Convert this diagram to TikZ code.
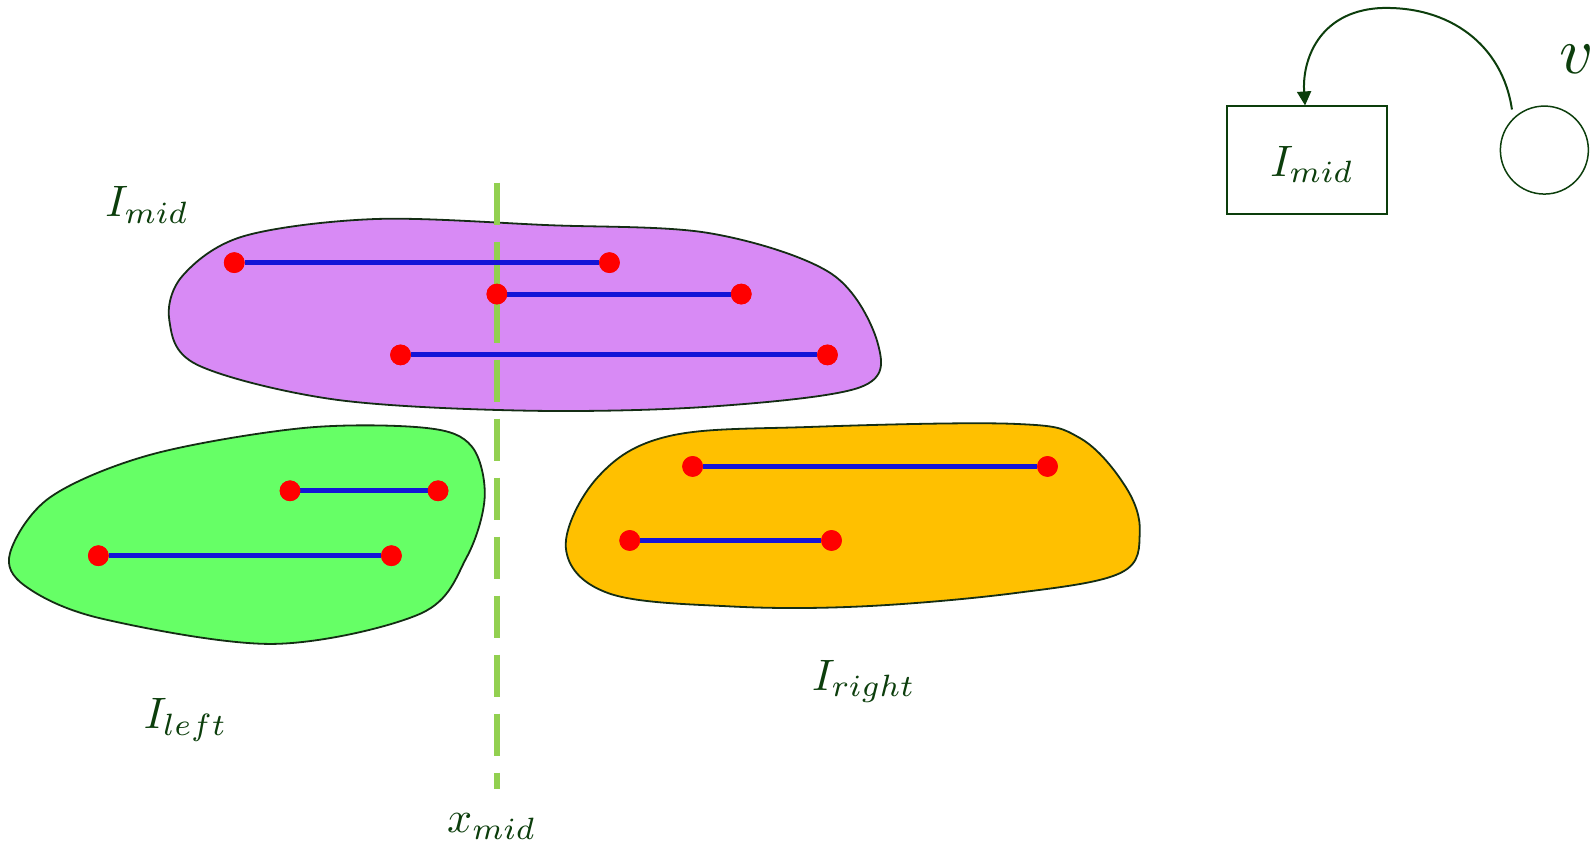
\documentclass[tikz,border=0pt]{standalone}
\usetikzlibrary{arrows.meta}
\definecolor{txt}{RGB}{12,62,12}
\definecolor{edge}{RGB}{20,45,20}
\definecolor{purp}{RGB}{216,138,245}
\definecolor{grn}{RGB}{102,255,102}
\definecolor{orng}{RGB}{255,192,0}
\definecolor{dashgreen}{RGB}{146,208,80}
\definecolor{segblue}{RGB}{20,20,215}
\begin{document}
\begin{tikzpicture}[x=1.014pt,y=-1.014pt,
  blob/.style={draw=edge,line width=1.8pt},
  dotnode/.style={circle,fill=red,inner sep=0pt,minimum size=20.5pt},
  seg/.style={draw=segblue,line width=5pt},
  lbl/.style={text=txt,inner sep=0pt,scale=4.4,transform shape},
  conn/.style={draw=txt,line width=2pt}]
\useasboundingbox (0,0) rectangle (1568,843);
% purple blob
\path[blob,fill=purp] plot[smooth cycle,tension=0.55] coordinates
 {(167,316) (180,272) (240,233) (370,216) (540,222) (700,230) (820,270) (866,340) (848,382) (700,401) (520,405) (330,394) (195,360)};
% green blob
\path[blob,fill=grn] plot[smooth cycle,tension=0.55] coordinates
 {(10,545) (50,490) (150,448) (300,422) (420,422) (465,440) (478,490) (460,550) (415,605) (270,635) (100,610) (25,578)};
% orange blob
\path[blob,fill=orng] plot[smooth cycle,tension=0.6] coordinates
 {(558,540) (590,470) (660,430) (800,421) (1000,418) (1065,432) (1110,480) (1124,525) (1105,565) (1000,585) (850,598) (720,598) (600,585)};
% dashed line
\coordinate (dtop) at (490,180);
\coordinate (dbot) at (490,778);
\draw[draw=dashgreen,line width=5.5pt,dash pattern=on 42pt off 17pt] (dtop) -- (dbot);
% segments in purple
\node[dotnode] (p1a) at (231,259) {};
\node[dotnode] (p1b) at (601,259) {};
\node[dotnode] (p2a) at (490,290) {};
\node[dotnode] (p2b) at (731,290) {};
\node[dotnode] (p3a) at (395,350) {};
\node[dotnode] (p3b) at (816,350) {};
% green
\node[dotnode] (g1a) at (286,484) {};
\node[dotnode] (g1b) at (432,484) {};
\node[dotnode] (g2a) at (97,548) {};
\node[dotnode] (g2b) at (386,548) {};
% orange
\node[dotnode] (o1a) at (683,460) {};
\node[dotnode] (o1b) at (1033,460) {};
\node[dotnode] (o2a) at (621,533) {};
\node[dotnode] (o2b) at (820,533) {};
\foreach \a/\b in {p1a/p1b,p2a/p2b,p3a/p3b,g1a/g1b,g2a/g2b,o1a/o1b,o2a/o2b}
  \draw[seg] (\a) -- (\b);
\foreach \n in {p1a,p1b,p2a,p2b,p3a,p3b,g1a,g1b,g2a,g2b,o1a,o1b,o2a,o2b}
  \fill[red] (\n) circle (10.25);
% labels
\node[lbl] (lmid) at (145,202) {$I_{mid}$};
\node[lbl] (lleft) at (183,710) {$I_{left}$};
\node[lbl] (lright) at (852,672) {$I_{right}$};
\node[lbl] (lx) at (485,815) {$x_{mid}$};
% top right
\node[draw=txt,line width=1.5pt,minimum width=160pt,minimum height=108pt,inner sep=0pt] (box) at (1289,158) {};
\node[lbl] (boxlbl) at (1294,162) {$I_{mid}$};
\node[draw=txt,line width=1.5pt,circle,minimum size=88pt,inner sep=0pt] (v) at (1523,148) {};
\node[lbl,scale=1.5] (vlbl) at (1555,58) {$v$};
\coordinate (vstart) at (1491,108);
\coordinate (bend) at (1287,104);
\draw[conn,-{Triangle[length=14pt,width=14pt]}] (vstart) .. controls (1482,45) and (1430,5) .. (1360,8) .. controls (1300,12) and (1284,60) .. (box.north -| bend);
\end{tikzpicture}
\end{document}
